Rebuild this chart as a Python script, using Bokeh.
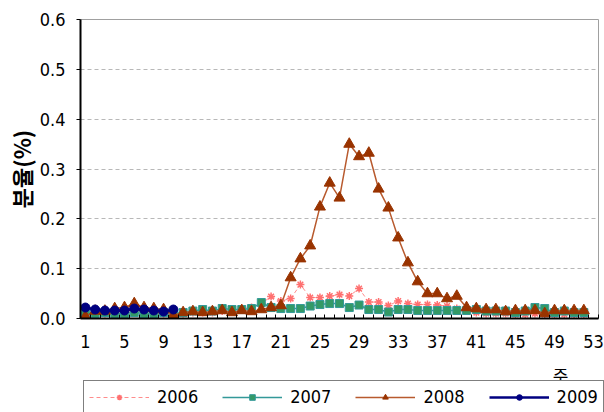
from bokeh.plotting import figure
from bokeh.models import (Range1d, FixedTicker, PrintfTickFormatter, Legend, LegendItem,
                          Label)
from bokeh.layouts import column
from bokeh.embed import file_html
from bokeh.resources import INLINE

weeks = list(range(1, 53))
y2006 = [0.010, 0.010, 0.010, 0.012, 0.012, 0.012, 0.010, 0.010, 0.010, 0.010,
         0.010, 0.012, 0.012, 0.012, 0.015, 0.015, 0.020, 0.022, 0.030, 0.044,
         0.035, 0.040, 0.068, 0.042, 0.042, 0.045, 0.048, 0.045, 0.060, 0.033,
         0.033, 0.026, 0.035, 0.030, 0.028, 0.028, 0.027, 0.025, 0.020, 0.015,
         0.012, 0.010, 0.010, 0.010, 0.008, 0.008, 0.010, 0.008, 0.008, 0.008,
         0.008, 0.008]
y2007 = [0.010, 0.010, 0.012, 0.010, 0.010, 0.012, 0.010, 0.010, 0.012, 0.010,
         0.012, 0.015, 0.018, 0.015, 0.020, 0.018, 0.018, 0.020, 0.032, 0.022,
         0.020, 0.020, 0.020, 0.025, 0.028, 0.030, 0.030, 0.022, 0.027, 0.018,
         0.018, 0.013, 0.018, 0.018, 0.016, 0.016, 0.016, 0.016, 0.016, 0.016,
         0.018, 0.015, 0.015, 0.015, 0.012, 0.015, 0.022, 0.020, 0.012, 0.015,
         0.012, 0.012]
y2008 = [0.004, 0.015, 0.015, 0.020, 0.022, 0.030, 0.022, 0.020, 0.018, 0.006,
         0.012, 0.014, 0.012, 0.014, 0.016, 0.012, 0.016, 0.014, 0.018, 0.022,
         0.026, 0.082, 0.120, 0.146, 0.224, 0.272, 0.242, 0.350, 0.325, 0.332,
         0.260, 0.222, 0.162, 0.112, 0.074, 0.050, 0.050, 0.040, 0.045, 0.022,
         0.020, 0.018, 0.018, 0.014, 0.016, 0.016, 0.016, 0.010, 0.016, 0.016,
         0.016, 0.016]
weeks2009 = list(range(1, 11))
y2009 = [0.022, 0.018, 0.016, 0.016, 0.016, 0.020, 0.018, 0.016, 0.014, 0.018]

x_tick_values = list(range(1, 54, 4))
y_tick_values = [0.0, 0.1, 0.2, 0.3, 0.4, 0.5, 0.6]
series_labels = ["2006", "2007", "2008", "2009"]
x_axis_title = "주"
y_axis_title = "분율(%)"

TICK_FONT = "DejaVu Sans Condensed, Liberation Sans Narrow, sans-serif"
KR_FONT = "Noto Sans CJK KR"

STYLES = [
    dict(line=dict(line_color="#ff8c8c", line_width=1, line_dash="4 3"),
         mark=dict(marker="asterisk", size=8, line_color="#ff7070", line_width=1.5)),
    dict(line=dict(line_color="#339999", line_width=1.5),
         mark=dict(marker="square", size=8, fill_color="#339966", line_color="#339999", line_width=1)),
    dict(line=dict(line_color="#b85a2e", line_width=1.5),
         mark=dict(marker="triangle", size=11, fill_color="#993300", line_color="#993300")),
    dict(line=dict(line_color="#000080", line_width=2.5),
         mark=dict(marker="circle", size=9, fill_color="#000080", line_color="#000080")),
]

H1 = 360
p = figure(width=604, height=H1, output_backend="svg", toolbar_location=None,
           x_range=Range1d(0.5, 53.5), y_range=Range1d(0, 0.6),
           min_border_left=80, min_border_right=6, min_border_top=19,
           min_border_bottom=H1 - 318)
p.background_fill_color = "white"
p.border_fill_color = "white"
p.outline_line_color = "#a0a0a0"
p.outline_line_width = 1

xa = p.xaxis[0]
xa.ticker = FixedTicker(ticks=x_tick_values, minor_ticks=[w - 0.5 for w in range(1, 55)])
xa.major_tick_in = 0
xa.major_tick_out = 0
xa.minor_tick_in = 4
xa.minor_tick_out = 0
xa.minor_tick_line_color = "black"
xa.axis_line_color = "black"
xa.axis_line_width = 2
xa.major_label_standoff = 16
xa.major_label_text_font = TICK_FONT
xa.major_label_text_font_size = "18px"
xa.major_label_text_color = "black"

ya = p.yaxis[0]
ya.ticker = FixedTicker(ticks=y_tick_values)
ya.formatter = PrintfTickFormatter(format="%.1f")
ya.major_tick_in = 0
ya.major_tick_out = 4
ya.minor_tick_out = 0
ya.minor_tick_in = 0
ya.axis_line_color = "black"
ya.axis_line_width = 2
ya.major_label_standoff = 11
ya.major_label_text_font = TICK_FONT
ya.major_label_text_font_size = "18px"
ya.major_label_text_color = "black"
ya.axis_label = y_axis_title
ya.axis_label_text_font = KR_FONT
ya.axis_label_text_font_size = "22px"
ya.axis_label_text_font_style = "bold"
ya.axis_label_text_color = "black"
ya.axis_label_standoff = 0

p.xgrid.visible = False
p.ygrid.ticker = FixedTicker(ticks=[0.1, 0.2, 0.3, 0.4, 0.5])
p.ygrid.grid_line_color = "#b8b8b8"
p.ygrid.grid_line_dash = "4 3"
p.ygrid.grid_line_width = 1

series = [(weeks, y2006), (weeks, y2007), (weeks, y2008), (weeks2009, y2009)]
for (xs, ys), st in zip(series, STYLES):
    p.line(xs, ys, **st["line"])
    p.scatter(xs, ys, **st["mark"])

# bottom strip: x-axis title and legend (own frame, not aligned with chart frame)
H2 = 412 - H1
Y0 = 100  # strip's range starts well above the data, so the proxies stay out of view
p2 = figure(width=604, height=H2, output_backend="svg", toolbar_location=None,
            x_range=Range1d(0, 604), y_range=Range1d(Y0, Y0 + H2),
            x_axis_type=None, y_axis_type=None, min_border=0)
p2.frame_align = False
p2.outline_line_color = None
p2.grid.visible = False
p2.background_fill_color = "white"
p2.border_fill_color = "white"

# legend proxies: same series data, which lies outside this strip's visible range
items = []
for lab, (xs, ys), st in zip(series_labels, series, STYLES):
    rl = p2.line(xs, ys, **st["line"])
    rm = p2.scatter(xs, ys, **st["mark"])
    items.append(LegendItem(label=lab, renderers=[rl, rm]))

legend = Legend(items=items, orientation="horizontal", location=(83, -1))
legend.margin = 0
legend.padding = 5
legend.spacing = 24
legend.glyph_width = 60
legend.glyph_height = 14
legend.label_height = 14
legend.label_standoff = 8
legend.label_text_font = TICK_FONT
legend.label_text_font_size = "18px"
legend.label_text_color = "black"
legend.border_line_color = "black"
legend.border_line_width = 1.5
legend.background_fill_alpha = 1
p2.add_layout(legend, "center")

xlab = Label(x=560, y=Y0 + H2 - 14, text=x_axis_title, text_font=KR_FONT,
             text_font_size="17px", text_align="center", text_baseline="middle",
             text_color="black")
p2.add_layout(xlab)

layout = column(p, p2, spacing=0)
open("out.html", "w").write(file_html(layout, INLINE))
